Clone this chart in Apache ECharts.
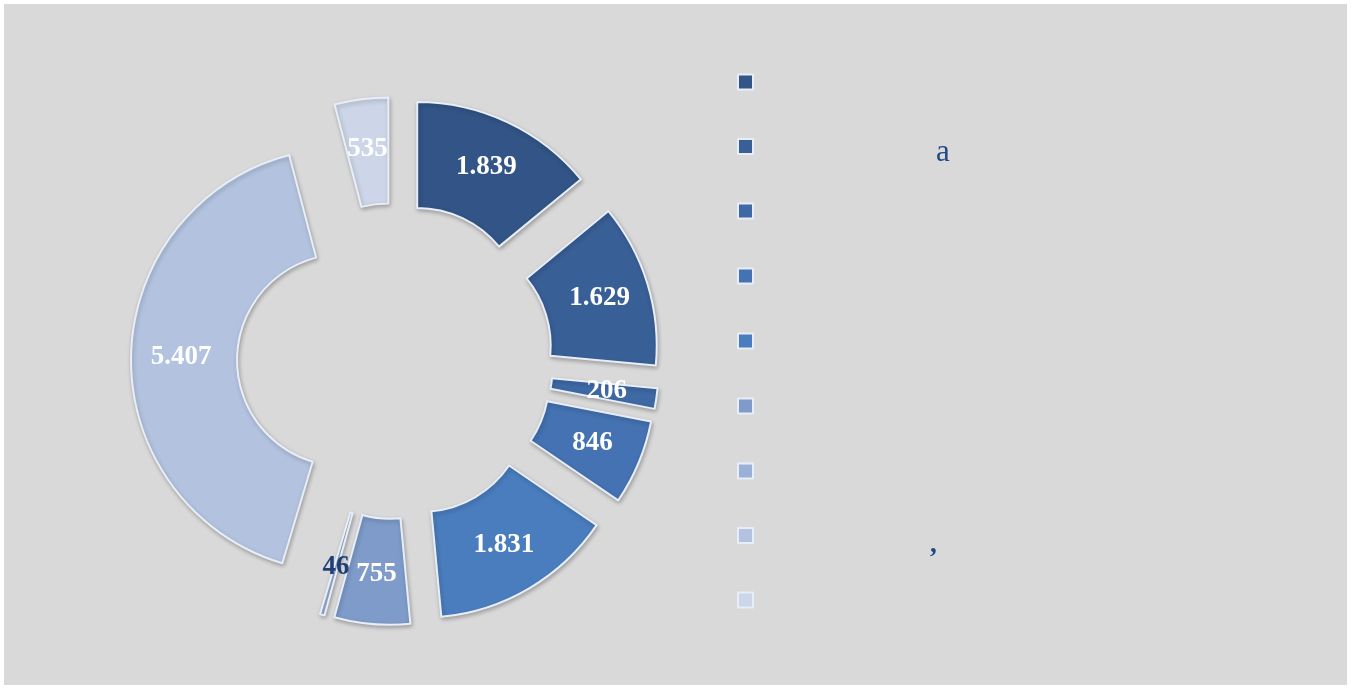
<!DOCTYPE html>
<html>
<head>
<meta charset="utf-8">
<script src="https://cdn.jsdelivr.net/npm/echarts@6/dist/echarts.min.js"></script>
<style>
  html, body { margin: 0; padding: 0; background: #fff; }
  #chart { position: absolute; left: 4px; top: 4px; width: 1343px; height: 681px; background: #d9d9d9; }
</style>
</head>
<body>
<div id="chart"></div>
<script>
// slice ids (the legend shows almost no readable text in the source)
const categories = ['s1', 's2', 's3', 's4', 's5', 's6', 's7', 's8', 's9']
const legendText = ['', 'a', '', '', '', '', '', ',', '']
const values = [1839, 1629, 206, 846, 1831, 755, 46, 5407, 535]
const valueLabels = ['1.839', '1.629', '206', '846', '1.831', '755', '46', '5.407', '535']
const colors = ['#325486', '#395f97', '#3e69a5', '#4472b2', '#4a7dbd', '#7e9bca', '#9ab0d6', '#b3c3df', '#cdd6e8']

const chart = echarts.init(document.getElementById('chart'))

chart.setOption({
  animation: false,
  color: colors,
  legend: {
    orient: 'vertical',
    left: 728,
    top: 49,
    itemWidth: 15,
    itemHeight: 15,
    itemGap: 17,
    icon: 'rect',
    selectedMode: false,
    data: categories,
    formatter: function (name) {
      const t = legendText[categories.indexOf(name)]
      if (t === 'a') return '{a|' + t + '}'
      if (t === ',') return '{b|' + t + '}'
      return '{e| }'
    },
    textStyle: {
      fontFamily: 'Liberation Serif',
      fontSize: 26,
      lineHeight: 48,
      color: '#1f4a86',
      rich: {
        e: { fontFamily: 'Liberation Serif', fontSize: 26, lineHeight: 48 },
        a: { fontFamily: 'Liberation Serif', fontSize: 31, lineHeight: 20, color: '#1f4a86', padding: [14, 0, 2, 178] },
        b: { fontFamily: 'Liberation Serif', fontSize: 27, fontWeight: 'bold', lineHeight: 20, color: '#1f4a86', padding: [20, 0, 0, 172] }
      }
    }
  },
  series: [{
    type: 'pie',
    center: [391, 357],
    radius: [106, 212],
    startAngle: 90,
    clockwise: true,
    selectedMode: 'multiple',
    selectedOffset: 52,
    avoidLabelOverlap: false,
    labelLayout: { hideOverlap: false },
    emphasis: { disabled: true },
    itemStyle: {
      borderColor: '#e8eef7',
      borderWidth: 2,
      shadowBlur: 4,
      shadowOffsetX: 1,
      shadowOffsetY: 2,
      shadowColor: 'rgba(0,0,0,0.25)'
    },
    label: {
      show: true,
      position: 'inside',
      fontFamily: 'Liberation Serif',
      fontWeight: 'bold',
      fontSize: 27,
      color: '#ffffff',
      formatter: function (p) { return valueLabels[p.dataIndex] }
    },
    labelLine: { show: false },
    data: categories.map(function (c, i) {
      const item = { name: c, value: values[i], selected: true }
      if (values[i] === 46) item.label = { color: '#1f3f77' }
      return item
    })
  }]
})
</script>
</body>
</html>
